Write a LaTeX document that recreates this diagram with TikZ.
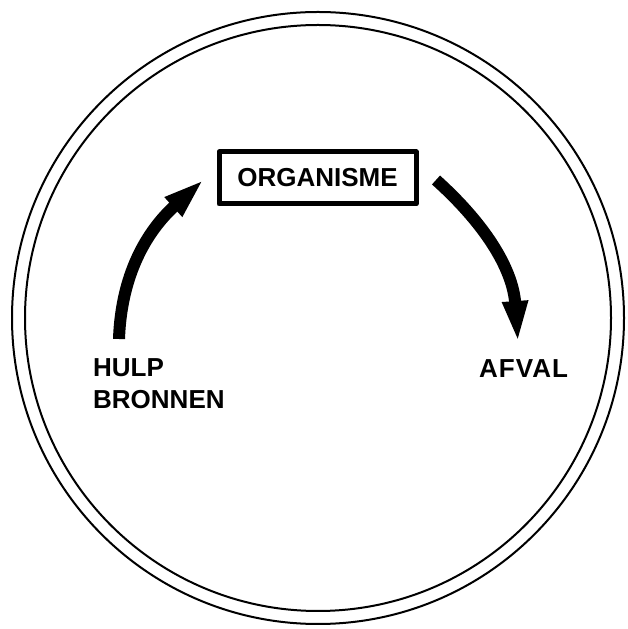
\documentclass[tikz,border=0pt]{standalone}
\usepackage{fontspec}
\setmainfont{Liberation Sans}
\usetikzlibrary{arrows.meta}
\tikzset{
  lbl/.style={font=\bfseries\fontsize{26}{32}\selectfont, inner sep=0pt},
  flow/.style={line width=12pt, -{Triangle[length=42pt,width=23pt]}},
}
\begin{document}
\begin{tikzpicture}[x=1pt,y=1pt, line join=round]
	\useasboundingbox (0,0) rectangle (628,629);
	% ring
	\draw[line width=2pt] (318,311) circle (306);
	\draw[line width=2pt] (318,311) circle (293);
	% labels
	\node[lbl, draw, line width=5pt, minimum width=197pt, minimum height=52pt] (org) at (317.5,451) {ORGANISME};
	\node[lbl, anchor=north west, align=left] (hulp) at (93,271) {HULP\\BRONNEN};
	\node[lbl, anchor=north west] (afval) at (479,270) {\addfontfeature{LetterSpace=4}AFVAL};
	% flows
	\coordinate (in0) at (119,290);
	\coordinate (out0) at (436,449);
	\draw[flow] (in0) to[out=88,in=222] ([xshift=-12pt,yshift=-1pt]org.west);
	\draw[flow] (out0) to[out=-42,in=94] ([xshift=39pt,yshift=16pt]afval.north west);
\end{tikzpicture}
\end{document}
